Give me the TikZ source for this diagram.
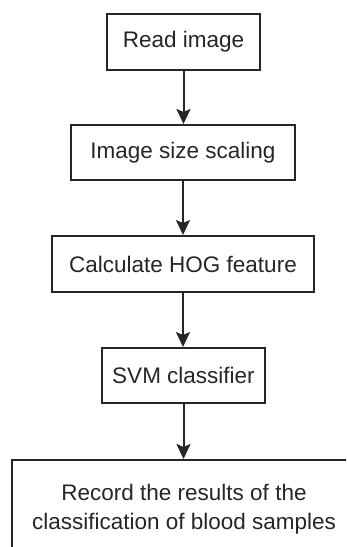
\documentclass[tikz,border=0pt]{standalone}
\usepackage{fontspec}
\setmainfont{Liberation Sans}
\usetikzlibrary{arrows.meta}
\begin{document}
\begin{tikzpicture}[x=1pt,y=-1pt,
  box/.style={draw=black!85,line width=2pt,fill=white,inner sep=0pt,
    text=black!85,font=\fontsize{22.5}{28.5}\selectfont,align=center},
  arr/.style={line width=2pt,draw=black!85,-{Stealth[length=15pt,width=14pt,inset=3pt]}}]
\useasboundingbox (0,0) rectangle (346,547);
\clip (0,0) rectangle (346,547);
\fill[white] (0,0) rectangle (346,547);
\node[box,minimum width=153pt,minimum height=56pt] (b1) at (183.5,42) {Read image};
\node[box,minimum width=224pt,minimum height=55pt] (b2) at (183,152.5) {Image size scaling};
\node[box,minimum width=262pt,minimum height=56pt] (b3) at (183,264) {Calculate HOG feature};
\node[box,minimum width=163pt,minimum height=55pt] (b4) at (183.5,375.5) {SVM classifier};
\node[box,minimum width=344pt,minimum height=98pt] (b5) at (184,509) {Record the results of the\\classification of blood samples};
\draw[arr] (b1.south) -- (b1.south |- b2.north);
\draw[arr] (b2.south) -- (b2.south |- b3.north);
\draw[arr] (b3.south) -- (b3.south |- b4.north);
\draw[arr] (b4.south) -- (b4.south |- b5.north);
\end{tikzpicture}
\end{document}
